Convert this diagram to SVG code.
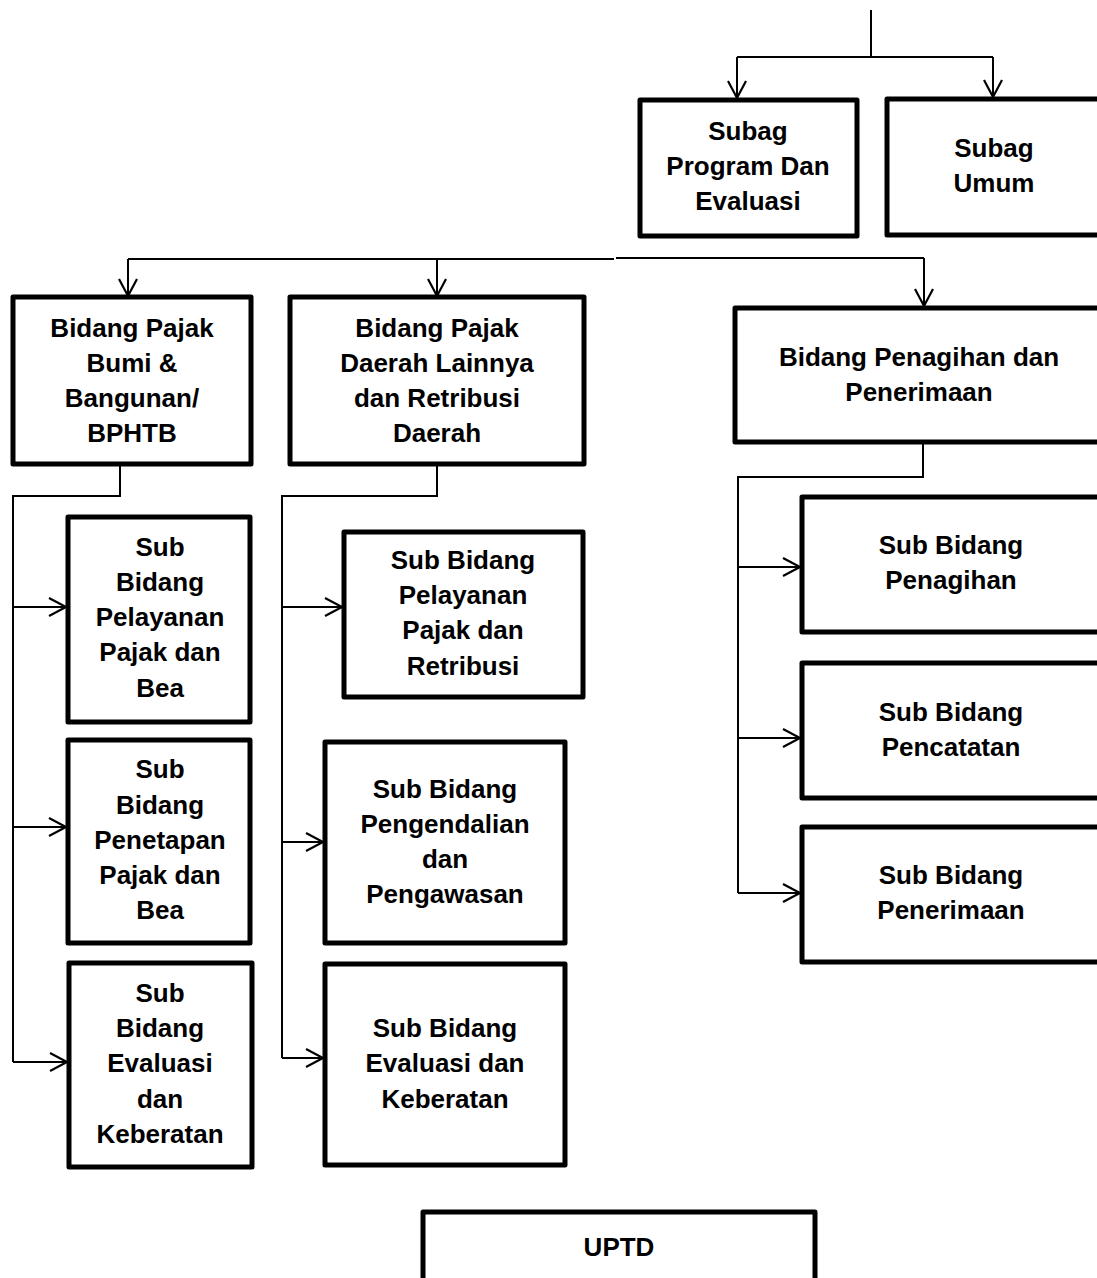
<svg xmlns="http://www.w3.org/2000/svg" width="1097" height="1278" viewBox="0 0 1097 1278">
<style>
.box{fill:#fff;stroke:#000;stroke-width:5;stroke-linejoin:round}
.t{font-family:"Liberation Sans",Arial,sans-serif;font-weight:bold;font-size:26px;fill:#000;text-anchor:middle}
.c{fill:none;stroke:#000;stroke-width:2}
</style>
<defs>
<marker id="arr" markerUnits="userSpaceOnUse" markerWidth="22" markerHeight="24" refX="19" refY="11" orient="auto">
<path d="M2,2 L19,11 L2,20" fill="none" stroke="#000" stroke-width="2.2"/>
</marker>
</defs>
<rect width="1097" height="1278" fill="#fff"/>
<g id="connectors">
<line class="c" x1="871" y1="10" x2="871" y2="57"/>
<line class="c" x1="737" y1="57" x2="993" y2="57"/>
<line class="c" x1="737" y1="57" x2="737" y2="98" marker-end="url(#arr)"/>
<line class="c" x1="993" y1="57" x2="993" y2="97" marker-end="url(#arr)"/>
<line class="c" x1="128" y1="259" x2="614" y2="259"/>
<line class="c" x1="616" y1="258" x2="924" y2="258"/>
<line class="c" x1="128" y1="259" x2="128" y2="296" marker-end="url(#arr)"/>
<line class="c" x1="437" y1="259" x2="437" y2="296" marker-end="url(#arr)"/>
<line class="c" x1="924" y1="258" x2="924" y2="306" marker-end="url(#arr)"/>
<polyline class="c" points="120,464 120,496 13,496 13,1062"/>
<line class="c" x1="13" y1="607" x2="66" y2="607" marker-end="url(#arr)"/>
<line class="c" x1="13" y1="827" x2="66" y2="827" marker-end="url(#arr)"/>
<line class="c" x1="13" y1="1062" x2="67" y2="1062" marker-end="url(#arr)"/>
<polyline class="c" points="437,464 437,496 282,496 282,1058"/>
<line class="c" x1="282" y1="607" x2="342" y2="607" marker-end="url(#arr)"/>
<line class="c" x1="282" y1="842" x2="323" y2="842" marker-end="url(#arr)"/>
<line class="c" x1="282" y1="1058" x2="323" y2="1058" marker-end="url(#arr)"/>
<polyline class="c" points="923,442 923,477 738,477 738,893"/>
<line class="c" x1="738" y1="567" x2="800" y2="567" marker-end="url(#arr)"/>
<line class="c" x1="738" y1="738" x2="800" y2="738" marker-end="url(#arr)"/>
<line class="c" x1="738" y1="893" x2="800" y2="893" marker-end="url(#arr)"/>
</g>
<g id="subag-program">
<rect class="box" x="640" y="100" width="217" height="136"/>
<text class="t" x="748" y="140">Subag</text>
<text class="t" x="748" y="175">Program Dan</text>
<text class="t" x="748" y="210">Evaluasi</text>
</g>
<g id="subag-umum">
<rect class="box" x="887" y="99" width="230" height="136"/>
<text class="t" x="994" y="157">Subag</text>
<text class="t" x="994" y="192">Umum</text>
</g>
<g id="bidang-pbb">
<rect class="box" x="13" y="297" width="238" height="167"/>
<text class="t" x="132" y="337">Bidang Pajak</text>
<text class="t" x="132" y="372">Bumi &amp;</text>
<text class="t" x="132" y="407">Bangunan/</text>
<text class="t" x="132" y="442">BPHTB</text>
</g>
<g id="bidang-pdl">
<rect class="box" x="290" y="297" width="294" height="167"/>
<text class="t" x="437" y="337">Bidang Pajak</text>
<text class="t" x="437" y="372">Daerah Lainnya</text>
<text class="t" x="437" y="407">dan Retribusi</text>
<text class="t" x="437" y="442">Daerah</text>
</g>
<g id="bidang-penagihan">
<rect class="box" x="735" y="308" width="380" height="134"/>
<text class="t" x="919" y="366">Bidang Penagihan dan</text>
<text class="t" x="919" y="401">Penerimaan</text>
</g>
<g id="sub-pelayanan-bea">
<rect class="box" x="68" y="517" width="182" height="205"/>
<text class="t" x="160" y="556">Sub</text>
<text class="t" x="160" y="591">Bidang</text>
<text class="t" x="160" y="626">Pelayanan</text>
<text class="t" x="160" y="661">Pajak dan</text>
<text class="t" x="160" y="697">Bea</text>
</g>
<g id="sub-penetapan">
<rect class="box" x="68" y="740" width="182" height="203"/>
<text class="t" x="160" y="778">Sub</text>
<text class="t" x="160" y="814">Bidang</text>
<text class="t" x="160" y="849">Penetapan</text>
<text class="t" x="160" y="884">Pajak dan</text>
<text class="t" x="160" y="919">Bea</text>
</g>
<g id="sub-evaluasi-left">
<rect class="box" x="69" y="963" width="183" height="204"/>
<text class="t" x="160" y="1002">Sub</text>
<text class="t" x="160" y="1037">Bidang</text>
<text class="t" x="160" y="1072">Evaluasi</text>
<text class="t" x="160" y="1108">dan</text>
<text class="t" x="160" y="1143">Keberatan</text>
</g>
<g id="sub-pelayanan-retribusi">
<rect class="box" x="344" y="532" width="239" height="165"/>
<text class="t" x="463" y="569">Sub Bidang</text>
<text class="t" x="463" y="604">Pelayanan</text>
<text class="t" x="463" y="639">Pajak dan</text>
<text class="t" x="463" y="675">Retribusi</text>
</g>
<g id="sub-pengendalian">
<rect class="box" x="325" y="742" width="240" height="201"/>
<text class="t" x="445" y="798">Sub Bidang</text>
<text class="t" x="445" y="833">Pengendalian</text>
<text class="t" x="445" y="868">dan</text>
<text class="t" x="445" y="903">Pengawasan</text>
</g>
<g id="sub-evaluasi-mid">
<rect class="box" x="325" y="964" width="240" height="201"/>
<text class="t" x="445" y="1037">Sub Bidang</text>
<text class="t" x="445" y="1072">Evaluasi dan</text>
<text class="t" x="445" y="1108">Keberatan</text>
</g>
<g id="sub-penagihan">
<rect class="box" x="802" y="497" width="310" height="135"/>
<text class="t" x="951" y="554">Sub Bidang</text>
<text class="t" x="951" y="589">Penagihan</text>
</g>
<g id="sub-pencatatan">
<rect class="box" x="802" y="663" width="310" height="135"/>
<text class="t" x="951" y="721">Sub Bidang</text>
<text class="t" x="951" y="756">Pencatatan</text>
</g>
<g id="sub-penerimaan">
<rect class="box" x="802" y="827" width="310" height="135"/>
<text class="t" x="951" y="884">Sub Bidang</text>
<text class="t" x="951" y="919">Penerimaan</text>
</g>
<g id="uptd">
<rect class="box" x="423" y="1212" width="392" height="90"/>
<text class="t" x="619" y="1256">UPTD</text>
</g>
</svg>
